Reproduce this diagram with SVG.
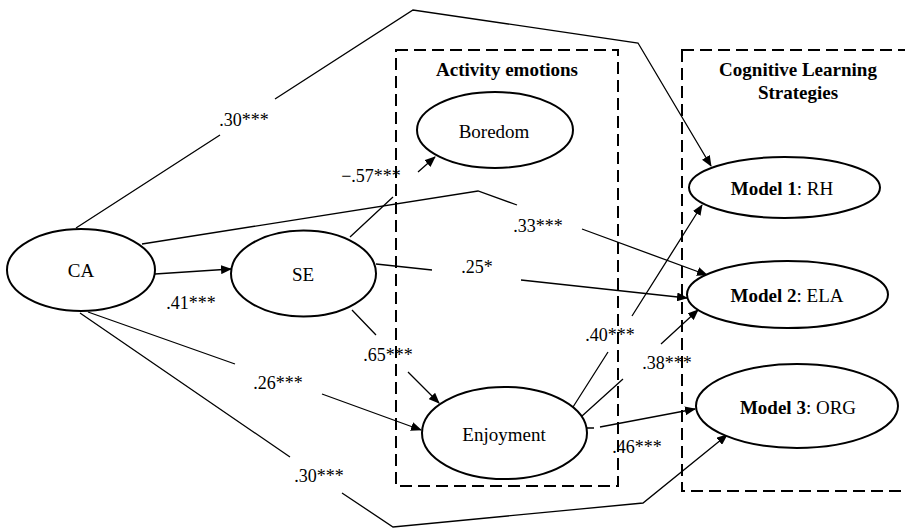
<svg xmlns="http://www.w3.org/2000/svg" width="905" height="528" viewBox="0 0 905 528">
<style>
.node{fill:#fff;stroke:#000;stroke-width:2}
.nt{font-family:"Liberation Serif","Times New Roman",serif;font-size:19px;text-anchor:middle;fill:#000}
.lbl{font-family:"Liberation Serif","Times New Roman",serif;font-size:18px;text-anchor:middle;fill:#000}
.ttl{font-family:"Liberation Serif","Times New Roman",serif;font-size:19px;font-weight:bold;text-anchor:middle;fill:#000}
.box{fill:none;stroke:#000;stroke-width:2;stroke-dasharray:12 6}
.c{fill:none;stroke:#000;stroke-width:1.3}
.a{marker-end:url(#arr)}
</style>
<defs>
<marker id="arr" markerUnits="userSpaceOnUse" markerWidth="11" markerHeight="9" refX="10" refY="4.5" orient="auto">
<path d="M0,0 L11,4.5 L0,9 Z" fill="#000"/>
</marker>
</defs>
<rect width="905" height="528" fill="#fff"/>
<g id="box-activity">
<rect class="box" x="396" y="50" width="222" height="436"/>
<text class="ttl" x="507" y="76">Activity emotions</text>
</g>
<g id="box-cognitive">
<rect class="box" x="682" y="50" width="240" height="441"/>
<text class="ttl" x="798" y="76">Cognitive Learning</text>
<text class="ttl" x="798" y="99">Strategies</text>
</g>
<g id="connectors">
<path class="c a" d="M76,228 L220,135 M275,99 L413,10 L638,43 L711,166"/>
<path class="c a" d="M155,274 L231,269"/>
<path class="c a" d="M142,244 L478,191 L517,205 M582,229 L707,275"/>
<path class="c a" d="M376,264 L432,270 M521,280 L687,298"/>
<path class="c a" d="M350,237 L393,197 M418,172 L435,157"/>
<path class="c a" d="M352,310 L376,335 M408,372 L439,403"/>
<path class="c a" d="M88,312 L235,364 M322,394 L421,430"/>
<path class="c a" d="M80,313 L290,457 M342,493 L393,527 L643,503 L727,435"/>
<path class="c a" d="M573,407 L608,352 M632,316 L702,205"/>
<path class="c a" d="M582,416 L623,379 M661,344 L698,310"/>
<path class="c a" d="M587,428 L594,428 M600,427 L695,409"/>
<text class="lbl" x="244" y="126">.30***</text>
<text class="lbl" x="191" y="309">.41***</text>
<text class="lbl" x="538" y="232">.33***</text>
<text class="lbl" x="477" y="273">.25*</text>
<text class="lbl" x="371" y="182">−.57***</text>
<text class="lbl" x="388" y="361">.65***</text>
<text class="lbl" x="278" y="389">.26***</text>
<text class="lbl" x="319" y="482">.30***</text>
<text class="lbl" x="610" y="341">.40***</text>
<text class="lbl" x="667" y="369">.38***</text>
<text class="lbl" x="637" y="453">.46***</text>
</g>
<g id="CA">
<ellipse class="node" cx="81" cy="270" rx="74" ry="41"/>
<text class="nt" x="81" y="277">CA</text>
</g>
<g id="SE">
<ellipse class="node" cx="303.5" cy="273.5" rx="72.5" ry="43"/>
<text class="nt" x="303" y="281">SE</text>
</g>
<g id="Boredom">
<ellipse class="node" cx="495" cy="130" rx="78" ry="38"/>
<text class="nt" x="494" y="138">Boredom</text>
</g>
<g id="Enjoyment">
<ellipse class="node" cx="504.5" cy="433" rx="82.5" ry="46"/>
<text class="nt" x="504" y="441">Enjoyment</text>
</g>
<g id="Model1">
<ellipse class="node" cx="784.5" cy="187.5" rx="95.5" ry="30.5"/>
<text class="nt" x="782" y="195"><tspan font-weight="bold">Model 1</tspan>: RH</text>
</g>
<g id="Model2">
<ellipse class="node" cx="787.5" cy="294.5" rx="100.5" ry="33.5"/>
<text class="nt" x="787" y="302"><tspan font-weight="bold">Model 2</tspan>: ELA</text>
</g>
<g id="Model3">
<ellipse class="node" cx="797" cy="406" rx="101" ry="42"/>
<text class="nt" x="798" y="414"><tspan font-weight="bold">Model 3</tspan>: ORG</text>
</g>
</svg>
